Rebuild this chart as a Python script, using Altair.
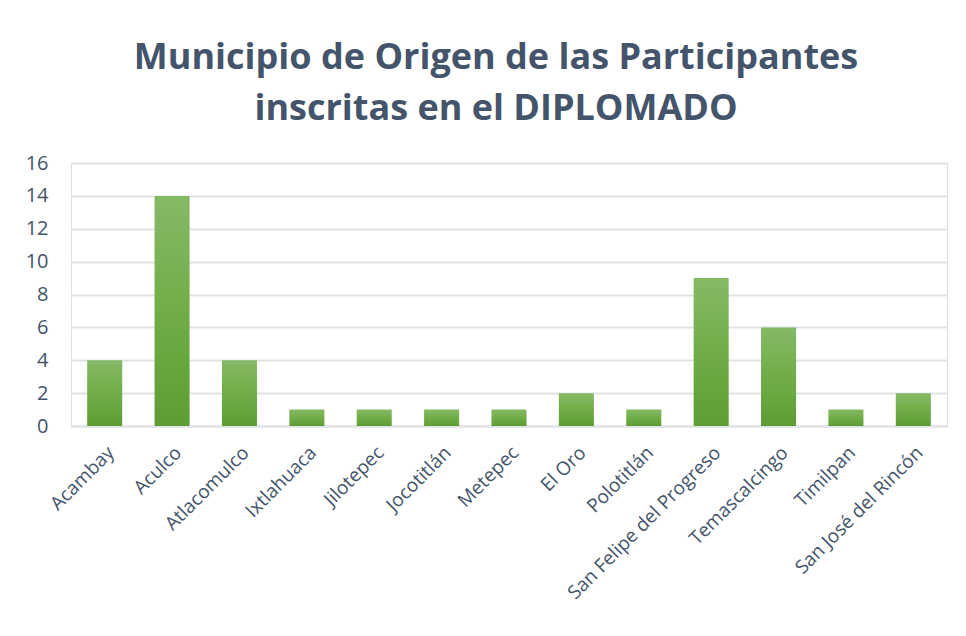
import altair as alt
import pandas as pd

municipios = ["Acambay", "Aculco", "Atlacomulco", "Ixtlahuaca", "Jilotepec", "Jocotitlán",
              "Metepec", "El Oro", "Polotitlán", "San Felipe del Progreso", "Temascalcingo",
              "Timilpan", "San José del Rincón"]
participantes = [4, 14, 4, 1, 1, 1, 1, 2, 1, 9, 6, 1, 2]
y_ticks = [0, 2, 4, 6, 8, 10, 12, 14, 16]

df = pd.DataFrame({"Municipio": municipios, "Participantes": participantes})

TXT = "#44546A"
FONT = "Open Sans, sans-serif"
LBL_FONT = "Open Sans, Noto Sans, sans-serif"
GRID = "#DFE3E8"

grad = alt.Gradient(
    gradient="linear",
    x1=0, x2=0, y1=1, y2=0,
    stops=[
        alt.GradientStop(color="#5E9D33", offset=0),
        alt.GradientStop(color="#70AD47", offset=0.5),
        alt.GradientStop(color="#86B966", offset=1),
    ],
)

chart = alt.Chart(df).mark_bar(color=grad).encode(
    x=alt.X("Municipio:N", sort=municipios, title=None,
            scale=alt.Scale(paddingInner=0.48, paddingOuter=0.24),
            axis=alt.Axis(labelAngle=-45, labelFont=LBL_FONT, labelFontSize=19,
                          labelColor=TXT, ticks=False, domain=True, domainColor=GRID,
                          domainWidth=2, labelPadding=17, labelLimit=300)),
    y=alt.Y("Participantes:Q", title=None,
            scale=alt.Scale(domain=[0, 16]),
            axis=alt.Axis(values=y_ticks, labelFont=LBL_FONT, labelFontSize=20,
                          labelColor=TXT, ticks=False, domain=False, labelPadding=23,
                          gridColor=GRID, gridWidth=2)),
).properties(
    width=876,
    height=263,
    title=alt.Title(
        ["Municipio de Origen de las Participantes", "inscritas en el DIPLOMADO"],
        font=FONT, fontSize=36, fontWeight="bold", color=TXT,
        anchor="middle", lineHeight=51, offset=25, dx=-13,
    ),
    padding={"left": 17, "top": 32, "right": 10, "bottom": 10},
).configure_view(stroke=None).configure(background="white")

chart.save("out.html", embed_options={"renderer": "svg", "actions": False})
